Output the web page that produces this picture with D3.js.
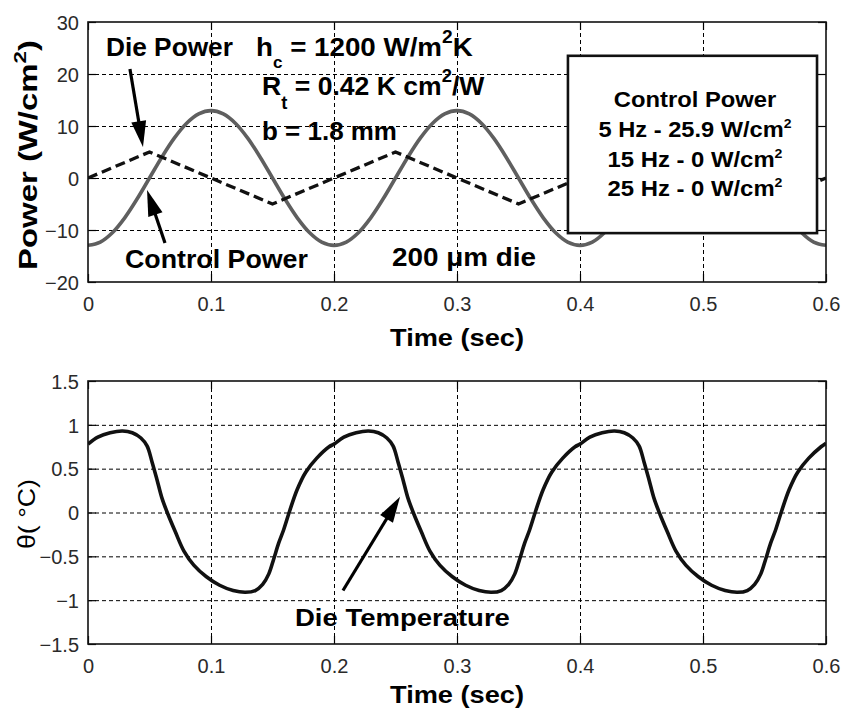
<!DOCTYPE html>
<html>
<head>
<meta charset="utf-8">
<script src="https://cdn.jsdelivr.net/npm/d3@7"></script>
<style>
  body { margin: 0; background: #fff; }
  svg { display: block; }
</style>
</head>
<body>
<svg id="chart" width="843" height="717"></svg>
<script>
// ---- tick values ----
const timeTicks = [0, 0.1, 0.2, 0.3, 0.4, 0.5, 0.6];
const powerTicks = [-20, -10, 0, 10, 20, 30];
const tempTicks = [-1.5, -1, -0.5, 0, 0.5, 1, 1.5];

// ---- die power (triangle wave, W/cm^2) ----
const diePowerTime = [0, 0.05, 0.15, 0.25, 0.35, 0.45, 0.55, 0.6];
const diePowerValue = [0, 5, -5, 5, -5, 5, -5, 0];

// ---- control power (5 Hz, W/cm^2) ----
const controlTime = [
  0.00, 0.01, 0.02, 0.03, 0.04, 0.05, 0.06, 0.07, 0.08, 0.09,
  0.10, 0.11, 0.12, 0.13, 0.14, 0.15, 0.16, 0.17, 0.18, 0.19,
  0.20, 0.21, 0.22, 0.23, 0.24, 0.25, 0.26, 0.27, 0.28, 0.29,
  0.30, 0.31, 0.32, 0.33, 0.34, 0.35, 0.36, 0.37, 0.38, 0.39,
  0.40, 0.41, 0.42, 0.43, 0.44, 0.45, 0.46, 0.47, 0.48, 0.49,
  0.50, 0.51, 0.52, 0.53, 0.54, 0.55, 0.56, 0.57, 0.58, 0.59, 0.60
];
const controlValue = [
  -12.95, -12.32, -10.48, -7.61, -4.00, 0, 4.00, 7.61, 10.48, 12.32,
  12.95, 12.32, 10.48, 7.61, 4.00, 0, -4.00, -7.61, -10.48, -12.32,
  -12.95, -12.32, -10.48, -7.61, -4.00, 0, 4.00, 7.61, 10.48, 12.32,
  12.95, 12.32, 10.48, 7.61, 4.00, 0, -4.00, -7.61, -10.48, -12.32,
  -12.95, -12.32, -10.48, -7.61, -4.00, 0, 4.00, 7.61, 10.48, 12.32,
  12.95, 12.32, 10.48, 7.61, 4.00, 0, -4.00, -7.61, -10.48, -12.32, -12.95
];

// ---- die temperature (deg C) ----
const tempTime = [
  0.000, 0.008, 0.018, 0.028, 0.036, 0.043, 0.048, 0.052, 0.056, 0.060,
  0.065, 0.071, 0.078, 0.086, 0.096, 0.107, 0.118, 0.128, 0.136, 0.142,
  0.147, 0.151, 0.155, 0.159, 0.164, 0.170, 0.177, 0.186, 0.196,
  0.200, 0.208, 0.218, 0.228, 0.236, 0.243, 0.248, 0.252, 0.256, 0.260,
  0.265, 0.271, 0.278, 0.286, 0.296, 0.307, 0.318, 0.328, 0.336, 0.342,
  0.347, 0.351, 0.355, 0.359, 0.364, 0.370, 0.377, 0.386, 0.396,
  0.400, 0.408, 0.418, 0.428, 0.436, 0.443, 0.448, 0.452, 0.456, 0.460,
  0.465, 0.471, 0.478, 0.486, 0.496, 0.507, 0.518, 0.528, 0.536, 0.542,
  0.547, 0.551, 0.555, 0.559, 0.564, 0.570, 0.577, 0.586, 0.596, 0.600
];
const tempValue = [
  0.78, 0.86, 0.91, 0.93, 0.91, 0.85, 0.76, 0.58, 0.38, 0.17,
  -0.02, -0.22, -0.44, -0.60, -0.73, -0.83, -0.89, -0.91, -0.89, -0.82,
  -0.70, -0.53, -0.35, -0.20, 0.02, 0.26, 0.46, 0.62, 0.75,
  0.78, 0.86, 0.91, 0.93, 0.91, 0.85, 0.76, 0.58, 0.38, 0.17,
  -0.02, -0.22, -0.44, -0.60, -0.73, -0.83, -0.89, -0.91, -0.89, -0.82,
  -0.70, -0.53, -0.35, -0.20, 0.02, 0.26, 0.46, 0.62, 0.75,
  0.78, 0.86, 0.91, 0.93, 0.91, 0.85, 0.76, 0.58, 0.38, 0.17,
  -0.02, -0.22, -0.44, -0.60, -0.73, -0.83, -0.89, -0.91, -0.89, -0.82,
  -0.70, -0.53, -0.35, -0.20, 0.02, 0.26, 0.46, 0.62, 0.75, 0.79
];

const svg = d3.select('#chart');
const FONT = "'Liberation Sans', Arial, Helvetica, sans-serif";

// ---- scales ----
const xTop = d3.scaleLinear().domain([0, 0.6]).range([88, 826]);
const yTop = d3.scaleLinear().domain([-20, 30]).range([282, 22]);
const xBot = d3.scaleLinear().domain([0, 0.6]).range([88, 826]);
const yBot = d3.scaleLinear().domain([-1.5, 1.5]).range([644, 381]);

// draw grid, inner ticks, tick labels and frame of one panel
function panel(x, y, xt, yt, id) {
  const [x0, x1] = x.range();
  const [yb, ytop] = y.range();
  const w = x1 - x0, h = yb - ytop;
  const g = svg.append('g');

  const defs = svg.append('defs');
  defs.append('clipPath').attr('id', id)
    .append('rect').attr('x', x0).attr('y', ytop).attr('width', w).attr('height', h);

  // dashed grid
  const grid = g.append('g').attr('class', 'grid');
  grid.append('g').attr('transform', `translate(0,${yb})`)
    .call(d3.axisBottom(x).tickValues(xt.slice(1, -1)).tickSize(-h).tickFormat(''));
  grid.append('g').attr('transform', `translate(${x0},0)`)
    .call(d3.axisLeft(y).tickValues(yt.slice(1, -1)).tickSize(-w).tickFormat(''));
  grid.selectAll('.domain').remove();
  grid.selectAll('line').attr('stroke', '#000').attr('stroke-width', 1)
    .attr('stroke-dasharray', '4,3');

  // inward ticks and labels
  const tickLen = 8;
  const bottom = g.append('g').attr('transform', `translate(0,${yb})`)
    .call(d3.axisBottom(x).tickValues(xt).tickSize(-tickLen).tickFormat(d3.format('')));
  const top = g.append('g').attr('transform', `translate(0,${ytop})`)
    .call(d3.axisTop(x).tickValues(xt).tickSize(-tickLen).tickFormat(''));
  const left = g.append('g').attr('transform', `translate(${x0},0)`)
    .call(d3.axisLeft(y).tickValues(yt).tickSize(-tickLen).tickPadding(9).tickFormat(d3.format('')));
  const right = g.append('g').attr('transform', `translate(${x1},0)`)
    .call(d3.axisRight(y).tickValues(yt).tickSize(-tickLen).tickFormat(''));
  [bottom, top, left, right].forEach(a => {
    a.select('.domain').remove();
    a.selectAll('line').attr('stroke', '#000').attr('stroke-width', 1.2);
    a.selectAll('text').attr('font-family', FONT).attr('font-size', 20)
      .attr('fill', '#2a2a2a');
  });
  bottom.selectAll('text').attr('y', 29).attr('dy', 0);
  left.selectAll('text').attr('dy', '0.36em');
  return { g, x0, x1, yb, ytop, w, h };
}

function frame(p) {
  p.g.append('rect').attr('x', p.x0).attr('y', p.ytop).attr('width', p.w).attr('height', p.h)
    .attr('fill', 'none').attr('stroke', '#111').attr('stroke-width', 1.6);
}

// text built from runs; each run may be raised (dy < 0) or lowered (dy > 0)
function richText(parent, runs, size, weight, anchor) {
  const t = parent.append('text')
    .attr('font-family', FONT).attr('font-size', size).attr('font-weight', weight)
    .attr('text-anchor', anchor || 'start').attr('fill', '#000');
  let shift = 0;
  runs.forEach(r => {
    const run = typeof r === 'string' ? { s: r, dy: 0 } : r;
    const ts = t.append('tspan').text(run.s).attr('dy', run.dy - shift);
    if (run.size) ts.attr('font-size', run.size);
    shift = run.dy;
  });
  return t;
}

// place a text at (px, py) and stretch it to the given width
function place(t, px, py, width, rotate) {
  const bw = t.node().getBBox().width;
  const s = width ? width / bw : 1;
  t.attr('transform', `translate(${px},${py})${rotate ? ` rotate(${rotate})` : ''} scale(${s},1)`);
  return t;
}

// arrow with filled head, tip at (tx, ty)
function arrow(parent, sx, sy, tx, ty) {
  const dx = tx - sx, dy = ty - sy, L = Math.hypot(dx, dy);
  const ux = dx / L, uy = dy / L, headL = 26, headW = 7.5;
  const bx = tx - ux * headL, by = ty - uy * headL;
  parent.append('line').attr('x1', sx).attr('y1', sy).attr('x2', bx + ux * 2).attr('y2', by + uy * 2)
    .attr('stroke', '#000').attr('stroke-width', 3.2);
  parent.append('path')
    .attr('d', `M${tx},${ty}L${bx - uy * headW},${by + ux * headW}L${bx + uy * headW},${by - ux * headW}Z`)
    .attr('fill', '#000');
}

// =========== top panel: power ===========
const pTop = panel(xTop, yTop, timeTicks, powerTicks, 'clipTop');

const lineTop = g => g.attr('clip-path', 'url(#clipTop)');
const controlPts = controlTime.map((t, i) => [t, controlValue[i]]);
const diePts = diePowerTime.map((t, i) => [t, diePowerValue[i]]);

pTop.g.append('path').call(lineTop)
  .attr('d', d3.line().x(d => xTop(d[0])).y(d => yTop(d[1])).curve(d3.curveCatmullRom)(controlPts))
  .attr('fill', 'none').attr('stroke', '#5f5f5f').attr('stroke-width', 3.6);
pTop.g.append('path').call(lineTop)
  .attr('d', d3.line().x(d => xTop(d[0])).y(d => yTop(d[1]))(diePts))
  .attr('fill', 'none').attr('stroke', '#111').attr('stroke-width', 3.3)
  .attr('stroke-dasharray', '10,5');
frame(pTop);

// legend box with control power amplitudes
const boxT0 = 0.3902, boxT1 = 0.5927, boxV0 = 23.5, boxV1 = -10.6;
pTop.g.append('rect')
  .attr('x', xTop(boxT0)).attr('y', yTop(boxV0))
  .attr('width', xTop(boxT1) - xTop(boxT0)).attr('height', yTop(boxV1) - yTop(boxV0))
  .attr('fill', '#fff').attr('stroke', '#111').attr('stroke-width', 2.6);

const ann = svg.append('g');
const legX = xTop(0.4935);
place(richText(ann, ['Control Power'], 22, 'bold', 'middle'), legX, yTop(13.65), 163);
place(richText(ann, ['5 Hz - 25.9 W/cm', { s: '2', dy: -9, size: 13 }], 22, 'bold', 'middle'), legX, yTop(7.88), 193);
place(richText(ann, ['15 Hz - 0 W/cm', { s: '2', dy: -9, size: 13 }], 22, 'bold', 'middle'), legX, yTop(2.17), 175);
place(richText(ann, ['25 Hz - 0 W/cm', { s: '2', dy: -9, size: 13 }], 22, 'bold', 'middle'), legX, yTop(-3.46), 175);

// parameter annotations
place(richText(ann, ['Die Power'], 26, 'bold'), xTop(0.0146), yTop(23.46), 127);
place(richText(ann, ['h', { s: 'c', dy: 12, size: 16 }, { s: ' = 1200 W/m', dy: 0 }, { s: '2', dy: -13, size: 18 }, { s: 'K', dy: 0 }], 26, 'bold'),
  xTop(0.1366), yTop(23.46), 217);
place(richText(ann, ['R', { s: 't', dy: 14, size: 18 }, { s: ' = 0.42 K cm', dy: 0 }, { s: '2', dy: -13, size: 18 }, { s: '/W', dy: 0 }], 26, 'bold'),
  xTop(0.1415), yTop(15.96), 223);
place(richText(ann, ['b = 1.8 mm'], 26, 'bold'), xTop(0.1415), yTop(7.31), 135);
place(richText(ann, ['Control Power'], 26, 'bold'), xTop(0.0301), yTop(-17.3), 183);
place(richText(ann, ['200 μm die'], 26, 'bold'), xTop(0.2472), yTop(-16.9), 144);

arrow(ann, xTop(0.0341), yTop(20.96), xTop(0.0447), yTop(5.96));
arrow(ann, xTop(0.0626), yTop(-12.5), xTop(0.048), yTop(-2.31));

// axis titles
place(richText(ann, ['Time (sec)'], 24, 'bold', 'middle'), 457, 346, 134);
place(richText(ann, ['Power (W/cm', { s: '2', dy: -11, size: 17 }, { s: ')', dy: 0 }], 25, 'bold', 'middle'), 37, 155, 230, -90);

// =========== bottom panel: temperature ===========
const pBot = panel(xBot, yBot, timeTicks, tempTicks, 'clipBot');
const tempPts = tempTime.map((t, i) => [t, tempValue[i]]);
pBot.g.append('path').attr('clip-path', 'url(#clipBot)')
  .attr('d', d3.line().x(d => xBot(d[0])).y(d => yBot(d[1])).curve(d3.curveCatmullRom)(tempPts))
  .attr('fill', 'none').attr('stroke', '#111').attr('stroke-width', 3.6);
frame(pBot);

const ann2 = svg.append('g');
place(richText(ann2, ['Die Temperature'], 24, 'bold'), xBot(0.1683), yBot(-1.289), 215);
arrow(ann2, xBot(0.2073), yBot(-0.89), xBot(0.2537), yBot(0.18));

place(richText(ann2, ['Time (sec)'], 24, 'bold', 'middle'), 457, 703, 134);
place(richText(ann2, ['θ( °C)'], 23, 'normal', 'middle'), 35, 514, 70, -90);
</script>
</body>
</html>
